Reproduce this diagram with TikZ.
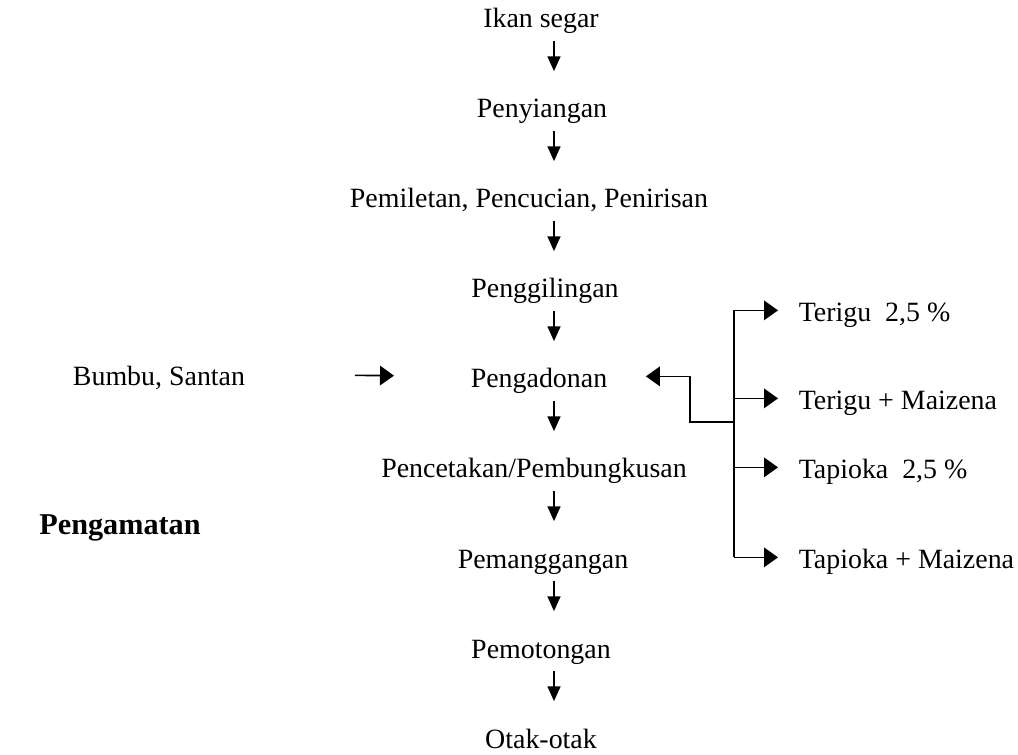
\documentclass[tikz,border=0pt]{standalone}
\usepackage{fontspec}
\setmainfont{Liberation Serif}
\usetikzlibrary{arrows.meta,calc}

\begin{document}
\begin{tikzpicture}[
  x=0.43pt, y=-0.43pt,
  font=\fontsize{12}{14}\selectfont,
  line width=0.7pt,
  stage/.style={inner sep=0pt, text height=10pt, text depth=0pt, anchor=base},
  option/.style={stage, anchor=base west},
  flow/.style={-{Triangle[length=6.4pt, width=5.6pt]}, shorten <=5.2pt, shorten >=9.8pt},
  branch/.style={-{Triangle[length=6pt, width=8.4pt]}, shorten >=8.6pt}
]
\useasboundingbox (0,0) rectangle (1018,755);

% Main process chain
\node[stage] (ikan) at (541,28) {Ikan segar};
\node[stage] (penyiangan) at (542,118) {Penyiangan};
\node[stage] (pemiletan) at (529,208) {Pemiletan, Pencucian, Penirisan};
\node[stage] (penggilingan) at (545,298) {Penggilingan};
\node[stage] (pengadonan) at (539,388) {Pengadonan};
\node[stage] (pencetakan) at (534,478) {Pencetakan/Pembungkusan};
\node[stage] (pemanggangan) at (543,568) {Pemanggangan};
\node[stage] (pemotongan) at (541,658) {Pemotongan};
\node[stage] (otak) at (541,748) {Otak-otak};

% Arrows between the stages
\coordinate (axis) at (554,0);
\draw[flow] (ikan.south -| axis) -- (penyiangan.north -| axis);
\draw[flow] (penyiangan.south -| axis) -- (pemiletan.north -| axis);
\draw[flow] (pemiletan.south -| axis) -- (penggilingan.north -| axis);
\draw[flow] (penggilingan.south -| axis) -- (pengadonan.north -| axis);
\draw[flow] (pengadonan.south -| axis) -- (pencetakan.north -| axis);
\draw[flow] (pencetakan.south -| axis) -- (pemanggangan.north -| axis);
\draw[flow] (pemanggangan.south -| axis) -- (pemotongan.north -| axis);
\draw[flow] (pemotongan.south -| axis) -- (otak.north -| axis);

% Seasoning input
\node[stage] (bumbu) at (159,386) {Bumbu, Santan};
\draw[branch, shorten <=46.9pt, shorten >=32.7pt] (bumbu.east) -- (pengadonan.west);

\node[stage, font=\fontsize{13}{15}\selectfont\bfseries] (pengamatan) at (120,535) {Pengamatan};

% Flour treatments
\node[option] (terigu) at (798,322) {Terigu\ \ 2,5 \%};
\node[option] (terigumaizena) at (798,410) {Terigu + Maizena};
\node[option] (tapioka) at (798,479) {Tapioka\ \ 2,5 \%};
\node[option] (tapiokamaizena) at (798,569) {Tapioka + Maizena};

\coordinate (trunk) at (734,422);
\coordinate (bend) at (690,422);
\draw (trunk |- terigu.west) -- (trunk |- tapiokamaizena.west);
\draw[branch] (trunk |- terigu.west) -- (terigu.west);
\draw[branch] (trunk |- terigumaizena.west) -- (terigumaizena.west);
\draw[branch] (trunk |- tapioka.west) -- (tapioka.west);
\draw[branch] (trunk |- tapiokamaizena.west) -- (tapiokamaizena.west);
\draw[branch, shorten >=16.3pt] (trunk) -- (bend) |- (pengadonan.east);

\end{tikzpicture}
\end{document}
